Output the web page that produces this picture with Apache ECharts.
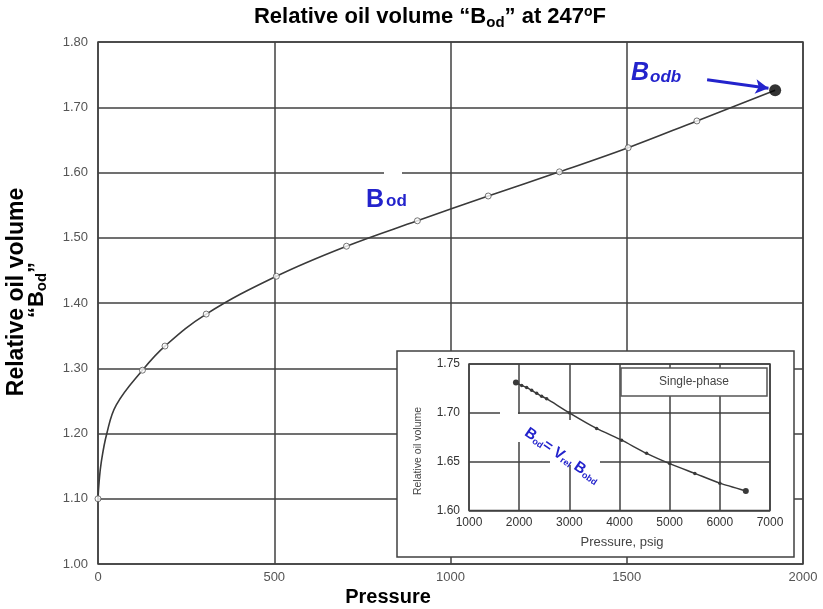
<!DOCTYPE html>
<html><head><meta charset="utf-8">
<script src="https://cdn.jsdelivr.net/npm/echarts@6/dist/echarts.min.js"></script>
<style>html,body{margin:0;padding:0;background:#fff}#c{width:823px;height:609px}</style>
</head><body><div id="c"></div>
<script>
// Main chart: relative oil volume vs pressure (curve trace)
const curvePressure = [0, 3, 9, 25, 52, 126, 190, 307, 506, 705, 906, 1107, 1309, 1504, 1699, 1921];
const curveBod      = [1.100, 1.125, 1.155, 1.200, 1.244, 1.297, 1.334, 1.383, 1.441, 1.487, 1.526, 1.564, 1.601, 1.638, 1.679, 1.726];
// Measured points (open circles)
const markerPressure = [0, 126, 190, 307, 506, 705, 906, 1107, 1309, 1504, 1699];
const markerBod      = [1.100, 1.297, 1.334, 1.383, 1.441, 1.487, 1.526, 1.564, 1.601, 1.638, 1.679];
// Bubble point
const bubblePressure = [1921];
const bubbleBod = [1.726];
// Arrow annotation (data coordinates)
const arrowFrom = [1728, 1.742];
const arrowTo = [1902, 1.729];
// Axis ticks
const mainXTicks = [0, 500, 1000, 1500, 2000];
const mainYTicks = [1.00, 1.10, 1.20, 1.30, 1.40, 1.50, 1.60, 1.70, 1.80];
// Inset: single-phase relative oil volume
const insetPressure = [1936, 2050, 2149, 2249, 2349, 2448, 2548, 3000, 3544, 4042, 4540, 5000, 5502, 6000, 6518];
const insetVolume   = [1.731, 1.728, 1.726, 1.723, 1.720, 1.717, 1.7145, 1.700, 1.684, 1.672, 1.6585, 1.648, 1.638, 1.628, 1.620];
const insetXTicks = [1000, 2000, 3000, 4000, 5000, 6000, 7000];
const insetYTicks = [1.60, 1.65, 1.70, 1.75];

const FONT = '"Liberation Sans", Arial, sans-serif';
const BLUE = '#2323cc';
const GRIDC = '#404040';

const chart = echarts.init(document.getElementById('c'));
const zip = (a, b) => a.map((v, i) => [v, b[i]]);

chart.setOption({
  animation: false,
  backgroundColor: '#fff',
  grid: [
    {left: 98, right: 20, top: 42, bottom: 45, show: true, borderColor: GRIDC, borderWidth: 1.5, backgroundColor: 'transparent', z: 2},
    {left: 469, right: 53, top: 364, bottom: 98.5, show: true, borderColor: GRIDC, borderWidth: 1.5, backgroundColor: '#fff', z: 4}
  ],
  xAxis: [
    {gridIndex: 0, type: 'value', min: mainXTicks[0], max: mainXTicks[mainXTicks.length-1], interval: 500,
     axisLine: {show: false}, axisTick: {show: false},
     axisLabel: {color: '#555', fontFamily: FONT, fontSize: 13, margin: 7, formatter: v => String(v)},
     splitLine: {show: true, lineStyle: {color: GRIDC, width: 1.5}}},
    {gridIndex: 1, type: 'value', min: insetXTicks[0], max: insetXTicks[insetXTicks.length-1], interval: 1000, z: 5,
     axisLine: {show: false}, axisTick: {show: false},
     axisLabel: {color: '#333', fontFamily: FONT, fontSize: 12, margin: 6, formatter: v => String(v)},
     splitLine: {show: true, lineStyle: {color: GRIDC, width: 1.5}}}
  ],
  yAxis: [
    {gridIndex: 0, type: 'value', min: mainYTicks[0], max: mainYTicks[mainYTicks.length-1], interval: 0.1,
     axisLine: {show: false}, axisTick: {show: false},
     axisLabel: {color: '#555', fontFamily: FONT, fontSize: 13, margin: 10, formatter: v => v.toFixed(2)},
     splitLine: {show: true, lineStyle: {color: GRIDC, width: 1.5}}},
    {gridIndex: 1, type: 'value', min: insetYTicks[0], max: insetYTicks[insetYTicks.length-1], interval: 0.05, z: 5,
     axisLine: {show: false}, axisTick: {show: false},
     axisLabel: {color: '#333', fontFamily: FONT, fontSize: 12, margin: 9, formatter: v => v.toFixed(2)},
     splitLine: {show: true, lineStyle: {color: GRIDC, width: 1.5}}}
  ],
  series: [
    {type: 'line', xAxisIndex: 0, yAxisIndex: 0, data: zip(curvePressure, curveBod), smooth: 0.4,
     showSymbol: false, lineStyle: {color: '#3a3a3a', width: 1.6}, z: 2},
    {type: 'scatter', xAxisIndex: 0, yAxisIndex: 0, data: zip(markerPressure, markerBod), symbol: 'circle', symbolSize: 6,
     itemStyle: {color: '#fff', borderColor: '#555', borderWidth: 1}, z: 3},
    {type: 'scatter', xAxisIndex: 0, yAxisIndex: 0, data: zip(bubblePressure, bubbleBod), symbol: 'circle', symbolSize: 12,
     itemStyle: {color: '#000'}, z: 4,
     markLine: {silent: true, symbol: ['none', 'arrow'], symbolSize: [11, 13], label: {show: false},
       lineStyle: {color: BLUE, width: 3, type: 'solid'},
       data: [[{coord: arrowFrom}, {coord: arrowTo}]]}},
    {type: 'line', xAxisIndex: 1, yAxisIndex: 1, data: zip(insetPressure, insetVolume), smooth: 0.2,
     symbol: 'circle', showSymbol: true,
     symbolSize: (v, p) => (p.dataIndex === 0 || p.dataIndex === insetPressure.length - 1) ? 6 : 3.5,
     itemStyle: {color: '#3a3a3a'}, lineStyle: {color: '#3a3a3a', width: 1.5}, z: 8}
  ],
  graphic: [
    // title
    {type: 'text', x: 430, y: 17, z: 10, style: {
      text: '{t|Relative oil volume “B}{s|od}{t|” at 247}{p|o}{t|F}',
      align: 'center', verticalAlign: 'middle',
      rich: {
        t: {fontFamily: FONT, fontWeight: 'bold', fontSize: 22, fill: '#000', lineHeight: 26, verticalAlign: 'middle'},
        s: {fontFamily: FONT, fontWeight: 'bold', fontSize: 15, fill: '#000', lineHeight: 26, padding: [12, 0, 0, 0], verticalAlign: 'middle'},
        p: {fontFamily: FONT, fontWeight: 'bold', fontSize: 14, fill: '#000', lineHeight: 26, padding: [0, 0, 10, 0], verticalAlign: 'middle'}
      }}},
    // y axis name
    {type: 'text', x: 17, y: 292, rotation: Math.PI / 2, z: 10, style: {
      text: 'Relative oil volume', align: 'center', verticalAlign: 'middle',
      fontFamily: FONT, fontWeight: 'bold', fontSize: 23, fill: '#000'}},
    {type: 'text', x: 37, y: 290, rotation: Math.PI / 2, z: 10, style: {
      text: '{t|“B}{s|od}{t|”}', align: 'center', verticalAlign: 'middle',
      rich: {
        t: {fontFamily: FONT, fontWeight: 'bold', fontSize: 22, fill: '#000', lineHeight: 24, verticalAlign: 'middle'},
        s: {fontFamily: FONT, fontWeight: 'bold', fontSize: 15, fill: '#000', lineHeight: 24, padding: [10, 0, 0, 0], verticalAlign: 'middle'}
      }}},
    // x axis name
    {type: 'text', x: 388, y: 597, z: 10, style: {
      text: 'Pressure', align: 'center', verticalAlign: 'middle',
      fontFamily: FONT, fontWeight: 'bold', fontSize: 20, fill: '#000'}},
    // Bod label
    {type: 'text', x: 366, y: 200, z: 10, style: {
      text: '{b|B}{s|od}', align: 'left', verticalAlign: 'middle',
      rich: {
        b: {fontFamily: FONT, fontWeight: 'bold', fontSize: 25, fill: BLUE, lineHeight: 28, verticalAlign: 'middle'},
        s: {fontFamily: FONT, fontWeight: 'bold', fontSize: 17, fill: BLUE, lineHeight: 28, padding: [3, 0, 0, 2], verticalAlign: 'middle'}
      }}},
    // Bodb label
    {type: 'text', x: 631, y: 73, z: 10, style: {
      text: '{b|B}{s|odb}', align: 'left', verticalAlign: 'middle',
      rich: {
        b: {fontFamily: FONT, fontWeight: 'bold', fontStyle: 'italic', fontSize: 25, fill: BLUE, lineHeight: 28, verticalAlign: 'middle'},
        s: {fontFamily: FONT, fontWeight: 'bold', fontStyle: 'italic', fontSize: 17, fill: BLUE, lineHeight: 28, padding: [9, 0, 0, 1], verticalAlign: 'middle'}
      }}},
    // small white gap on 1.60 gridline
    {type: 'rect', z: 1, shape: {x: 384, y: 168, width: 18, height: 6}, style: {fill: '#fff'}},
    // inset outer box
    {type: 'rect', z: 3, shape: {x: 397, y: 351, width: 397, height: 206}, style: {fill: '#fff', stroke: GRIDC, lineWidth: 1.5}},
    // inset gridline gaps
    {type: 'rect', z: 6, shape: {x: 500, y: 409, width: 18, height: 6}, style: {fill: '#fff'}},
    {type: 'rect', z: 6, shape: {x: 517, y: 414, width: 6, height: 28}, style: {fill: '#fff'}},
    {type: 'rect', z: 6, shape: {x: 569, y: 420, width: 6, height: 43}, style: {fill: '#fff'}},
    {type: 'rect', z: 6, shape: {x: 550, y: 459, width: 50, height: 6}, style: {fill: '#fff'}},
    // legend box
    {type: 'rect', z: 7, shape: {x: 621, y: 368, width: 146, height: 28}, style: {fill: '#fff', stroke: '#555', lineWidth: 1.5}},
    {type: 'text', x: 694, y: 382, z: 9, style: {text: 'Single-phase', align: 'center', verticalAlign: 'middle',
      fontFamily: FONT, fontSize: 12, fill: '#444'}},
    // inset axis names
    {type: 'text', x: 418, y: 451, rotation: Math.PI / 2, z: 9, style: {text: 'Relative oil volume', align: 'center', verticalAlign: 'middle',
      fontFamily: FONT, fontSize: 10.5, fill: '#444'}},
    {type: 'text', x: 622, y: 542, z: 9, style: {text: 'Pressure, psig', align: 'center', verticalAlign: 'middle',
      fontFamily: FONT, fontSize: 13, fill: '#444'}},
    // inset formula
    {type: 'text', x: 562, y: 456, rotation: -0.6, z: 9, style: {
      text: '{b|B}{s|od}{b|= V}{s|rel}{b| B}{s|obd}', align: 'center', verticalAlign: 'middle',
      rich: {
        b: {fontFamily: FONT, fontWeight: 'bold', fontSize: 15, fill: BLUE, lineHeight: 17, verticalAlign: 'middle'},
        s: {fontFamily: FONT, fontWeight: 'bold', fontSize: 9, fill: BLUE, lineHeight: 17, padding: [7, 0, 0, 0], verticalAlign: 'middle'}
      }}}
  ]
});
</script>
</body></html>
